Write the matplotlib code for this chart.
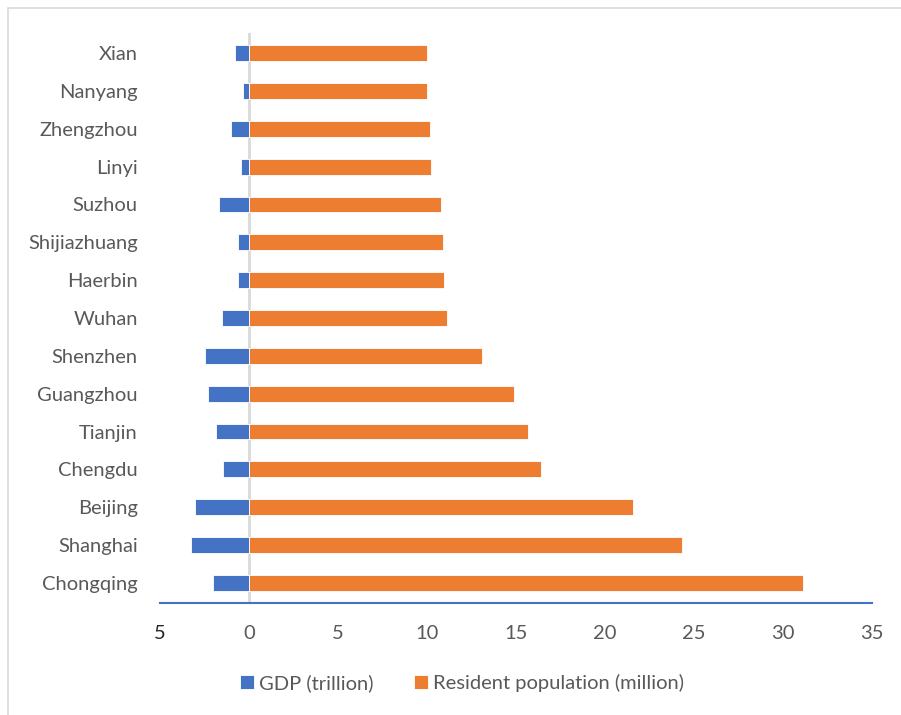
import matplotlib.pyplot as plt
from matplotlib.patches import Rectangle
from matplotlib.ticker import FuncFormatter

cities = ['Chongqing', 'Shanghai', 'Beijing', 'Chengdu', 'Tianjin', 'Guangzhou',
          'Shenzhen', 'Wuhan', 'Haerbin', 'Shijiazhuang', 'Suzhou', 'Linyi',
          'Zhengzhou', 'Nanyang', 'Xian']
gdp = [2.02, 3.24, 3.05, 1.48, 1.87, 2.28, 2.47, 1.5, 0.6, 0.6, 1.69, 0.47, 1.0, 0.32, 0.8]
population = [31.1, 24.3, 21.6, 16.4, 15.7, 14.9, 13.1, 11.1, 10.97, 10.9, 10.77, 10.2, 10.17, 10.0, 10.0]

blue = '#4472C4'
orange = '#ED7D31'
grey_text = '#595959'

plt.rcParams['font.family'] = ['Lato', 'DejaVu Sans']

fig = plt.figure(figsize=(9.01, 7.15), dpi=100)
ax = fig.add_axes([160 / 901, 1 - 603 / 715, (872 - 160) / 901, 570 / 715])

# light frame round the chart area
fig.patches.append(Rectangle((8 / 901, -0.1), 1.2, 1 - 7.5 / 715 + 0.1, transform=fig.transFigure,
                             fill=False, edgecolor='#D9D9D9', linewidth=1.2))

ypos = list(range(len(cities)))
ax.barh(ypos, [-g for g in gdp], height=0.42, color=blue, edgecolor='white', linewidth=0.6,
        label='GDP (trillion)')
ax.barh(ypos, population, height=0.42, color=orange, edgecolor='white', linewidth=0.6,
        label='Resident population (million)')

ax.axvline(0, color='#D9D9D9', linewidth=2, zorder=0.5)

ax.set_xlim(-5, 35)
ax.set_ylim(-0.53, len(cities) - 0.47)
ax.set_xticks(range(-5, 36, 5))
ax.xaxis.set_major_formatter(FuncFormatter(lambda v, p: f'{abs(int(v))}'))
ax.set_yticks(ypos)
ax.set_yticklabels(cities)

for s in ['top', 'right', 'left']:
    ax.spines[s].set_visible(False)
ax.spines['bottom'].set_color(blue)
ax.spines['bottom'].set_linewidth(1.5)

ax.tick_params(axis='x', length=0, pad=16, labelsize=14.5, labelcolor=grey_text)
ax.tick_params(axis='y', length=0, pad=16, labelsize=14.5, labelcolor=grey_text)
ax.get_xticklabels()[0].set_color('#262626')

fig.legend(loc='center', bbox_to_anchor=(0.513, 1 - 683 / 715), ncol=2, frameon=False,
           fontsize=14.5, labelcolor=grey_text, handlelength=0.7, handleheight=0.7,
           handletextpad=0.25, columnspacing=2.0)

fig.savefig('out.png', dpi=100)
